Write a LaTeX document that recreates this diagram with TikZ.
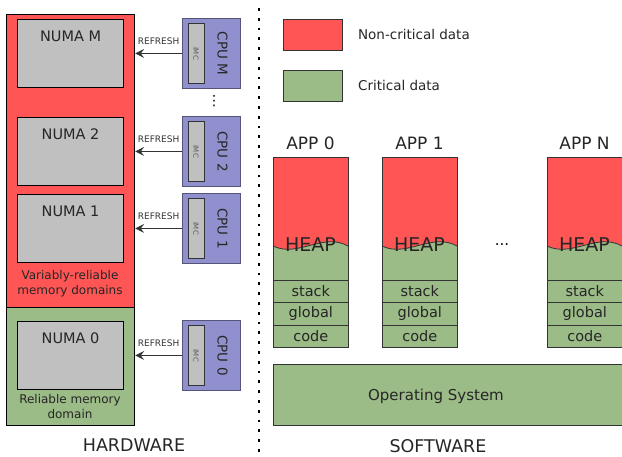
\documentclass[tikz,border=0pt]{standalone}
\usepackage{fontspec}
\setmainfont{DejaVu Sans}
\usepackage{tikz}
\usetikzlibrary{arrows.meta,positioning,calc}
\definecolor{ncred}{HTML}{FF5555}
\definecolor{critgreen}{HTML}{9BBB87}
\definecolor{numagray}{HTML}{C0C0C0}
\definecolor{cpublue}{HTML}{9090CF}
\definecolor{cpuedge}{HTML}{55557A}
\definecolor{edgegray}{HTML}{333333}
\tikzstyle{zone} = [draw=black, line width=1.2pt, minimum width=128pt, anchor=north west, inner sep=0pt]
\tikzstyle{numa} = [draw=black, line width=1.1pt, fill=numagray, minimum width=106pt, minimum height=68pt, anchor=north west, inner sep=0pt]
\tikzstyle{numalbl} = [font=\fontsize{14.5pt}{17pt}\selectfont, text=black!85]
\tikzstyle{cpu} = [draw=cpuedge, line width=0.9pt, fill=cpublue, minimum width=58pt, minimum height=70pt, anchor=north west, inner sep=0pt]
\tikzstyle{cpulbl} = [font=\fontsize{13.5pt}{15pt}\selectfont, rotate=-90, text=black!85]
\tikzstyle{imc} = [draw=edgegray, line width=0.8pt, fill=numagray, rotate=-90, minimum width=60pt, minimum height=16pt, inner sep=0pt, font=\fontsize{7pt}{8pt}\selectfont, text=black!65]
\tikzstyle{arrow} = [-{Stealth[length=9pt, width=9pt, inset=3.5pt]}, line width=0.8pt, edgegray]
\tikzstyle{domlbl} = [font=\fontsize{12pt}{15pt}\selectfont, align=center, text=black!85]
\tikzstyle{title} = [font=\fontsize{17.5pt}{20pt}\selectfont, text=black!85]
\tikzstyle{legbox} = [draw=edgegray, line width=0.9pt, minimum width=59pt, minimum height=31pt, anchor=north west, inner sep=0pt]
\tikzstyle{legtext} = [font=\fontsize{13.5pt}{16pt}\selectfont, text=black!85, inner sep=0pt]
\tikzstyle{seg} = [draw=edgegray, line width=0.7pt, fill=critgreen, minimum width=75pt, minimum height=22.3pt, anchor=north west, inner sep=0pt, font=\fontsize{14.5pt}{16pt}\selectfont, text=black!85]

\begin{document}
\begin{tikzpicture}[x=1pt, y=-1pt]
\useasboundingbox (0,0) rectangle (622,456);

% hardware side
\node[zone, fill=ncred, minimum height=293pt] (varzone) at (6,14) {};
\node[zone, fill=critgreen, minimum height=118pt] (relzone) at (6,307) {};
\foreach \n/\y in {M/19,2/117,1/194,0/321}{
  \node[numa] (numa\n) at (17,\y) {};
  \node[numalbl] (numalbl\n) at ($(numa\n.north)+(0,17)$) {NUMA \n};
}
\node[domlbl] (vardom) at (70,284) {Variably-reliable\\memory domains};
\node[domlbl] (reldom) at (70,407) {Reliable memory\\domain};

\foreach \n/\y in {M/18,2/116,1/193,0/320}{
  \node[cpu] (cpu\n) at (182,\y) {};
  \node[imc] (imc\n) at ($(cpu\n.west)+(14,0)$) {iMC};
  \node[cpulbl] (cpulbl\n) at ($(cpu\n.center)+(11,0)$) {CPU \n};
  \draw[arrow] (cpu\n.west) -- (cpu\n.west -| varzone.east)
    node[midway, yshift=12pt, font=\fontsize{9pt}{10pt}\selectfont, text=black!80] (rf\n) {REFRESH};
}
\node[font=\fontsize{14pt}{16pt}\selectfont] (cpudots) at (214,101) {⋮};
\node[title] (hw) at (134,445) {HARDWARE};

% separator
\draw[line width=2.8pt, dash pattern=on 2.8pt off 7pt] (259,8) -- (259,452);

% legend
\node[legbox, fill=ncred] (legnc) at (283,19) {};
\node[legtext, right=15pt of legnc] (legnctxt) {Non-critical data};
\node[legbox, fill=critgreen] (legc) at (283,70) {};
\node[legtext, right=15pt of legc] (legctxt) {Critical data};

% applications
\foreach \x/\n in {273/0,382/1,547/N}{
  \fill[ncred] (\x,157) rectangle (\x+75,250);
  \fill[critgreen] (\x,246) .. controls (\x+25,258) and (\x+50,232) .. (\x+75,246) -- (\x+75,280) -- (\x,280) -- cycle;
  \draw[edgegray, line width=0.8pt] (\x,246) .. controls (\x+25,258) and (\x+50,232) .. (\x+75,246);
  \draw[edgegray, line width=0.8pt] (\x,157) rectangle (\x+75,280);
  \node[font=\fontsize{17pt}{19pt}\selectfont, text=black!85] (app\n) at (\x+37.5,143) {APP \n};
  \node[font=\fontsize{19pt}{21pt}\selectfont, text=black!85] (heap\n) at (\x+37.5,245) {HEAP};
  \node[seg] (stack\n) at (\x,280) {stack};
  \node[seg] (global\n) at (\x,302.3) {global};
  \node[seg] (code\n) at (\x,324.6) {code};
}
\node[font=\fontsize{15pt}{17pt}\selectfont] (appdots) at (502,245) {...};

\node[draw=edgegray, line width=0.9pt, fill=critgreen, minimum width=349pt, minimum height=61pt, anchor=north west, inner sep=0pt] (os) at (273,364) {};
\node[font=\fontsize{15pt}{17pt}\selectfont, text=black!85] (ostxt) at (436,396) {Operating System};
\node[title] (sw) at (438,446) {SOFTWARE};
\end{tikzpicture}
\end{document}
